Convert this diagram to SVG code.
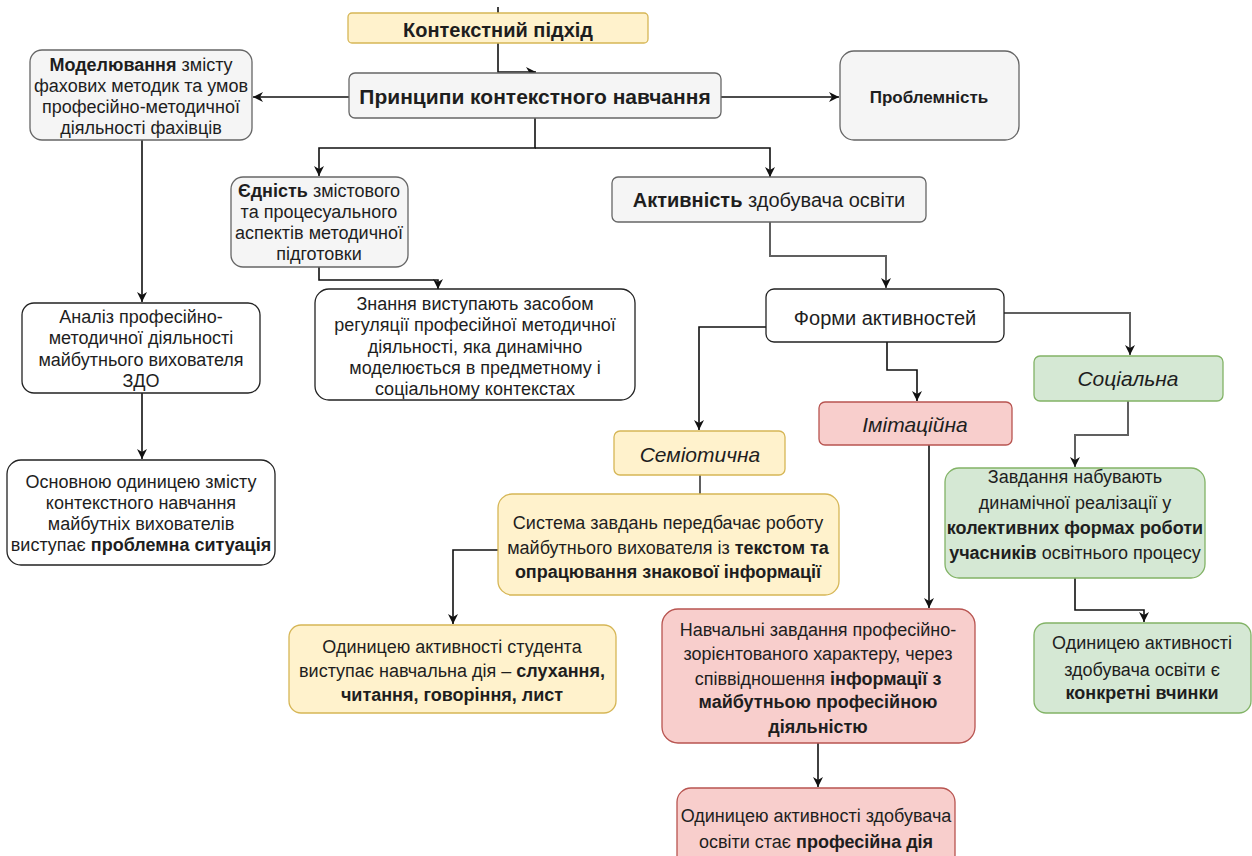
<svg xmlns="http://www.w3.org/2000/svg" width="1252" height="856" viewBox="0 0 1252 856">
<style>
text{font-family:"Liberation Sans",Arial,sans-serif;font-size:18px;text-anchor:middle;fill:#1e1e1e}
.b{font-weight:bold}
.it{font-style:italic;font-size:21px}
.h{font-size:20px}
.gray{fill:#f5f5f5;stroke:#666;stroke-width:1.3}
.wht{fill:#fff;stroke:#222;stroke-width:1.3}
.yel{fill:#fff2cc;stroke:#d6b656;stroke-width:1.3}
.red{fill:#f8cecc;stroke:#b85450;stroke-width:1.3}
.grn{fill:#d5e8d4;stroke:#82b366;stroke-width:1.3}
.e{fill:none;stroke:#111;stroke-width:1.6}
.eg{fill:none;stroke:#606060;stroke-width:2}
</style>
<defs>
<marker id="a" markerUnits="userSpaceOnUse" markerWidth="12" markerHeight="12" refX="10" refY="5" orient="auto"><path d="M0,0 L10,5 L0,10 L3,5 Z" fill="#111"/></marker>
<marker id="ag" markerUnits="userSpaceOnUse" markerWidth="12" markerHeight="12" refX="10" refY="5" orient="auto"><path d="M0,0 L10,5 L0,10 L3,5 Z" fill="#111"/></marker>
</defs>
<rect width="1252" height="856" fill="#fff"/>
<g id="connectors">
<path class="e" d="M498,7 V13"/>
<path class="e" d="M498,43 V72 H536" marker-end="url(#a)"/>
<path class="e" d="M349,97 H253" marker-end="url(#a)"/>
<path class="e" d="M721,97 H839" marker-end="url(#a)"/>
<path class="e" d="M535,118 V148 H319 V176" marker-end="url(#a)"/>
<path class="e" d="M535,148 H770 V177" marker-end="url(#a)"/>
<path class="e" d="M319,267 V280 H438 V289" marker-end="url(#a)"/>
<path class="e" d="M142,140 V302" marker-end="url(#a)"/>
<path class="e" d="M142,393 V459" marker-end="url(#a)"/>
<path class="eg" d="M770,222 V256 H886 V288" marker-end="url(#ag)"/>
<path class="e" d="M766,327 H699 V430" marker-end="url(#a)"/>
<path class="e" d="M887,342 V370 H917 V401" marker-end="url(#a)"/>
<path class="eg" d="M1004,313 H1130 V355" marker-end="url(#ag)"/>
<path class="eg" d="M700,475 V494"/>
<path class="e" d="M498,550 H453 V624" marker-end="url(#a)"/>
<path class="e" d="M929,445 V608" marker-end="url(#a)"/>
<path class="eg" d="M1128,401 V435 H1075 V467" marker-end="url(#ag)"/>
<path class="e" d="M1075,578 V610 H1144 V622" marker-end="url(#a)"/>
<path class="e" d="M818,743 V787" marker-end="url(#a)"/>
</g>
<g id="n-kontekst">
<rect class="yel" x="348" y="13" width="300" height="30" rx="4"/>
<text class="b h" x="498" y="37">Контекстний підхід</text>
</g>
<g id="n-pryntsypy">
<rect class="gray" x="349" y="73" width="372" height="45" rx="6"/>
<text class="b" x="535" y="104" style="font-size:21px">Принципи контекстного навчання</text>
</g>
<g id="n-modeliuvannia">
<rect class="gray" x="30" y="50" width="222" height="90" rx="12"/>
<text x="141" y="71"><tspan class="b">Моделювання</tspan> змісту</text>
<text x="141" y="92">фахових методик та умов</text>
<text x="141" y="113">професійно-методичної</text>
<text x="141" y="134">діяльності фахівців</text>
</g>
<g id="n-problemnist">
<rect class="gray" x="840" y="51" width="179" height="89" rx="14"/>
<text class="b" x="929" y="103" style="font-size:17px">Проблемність</text>
</g>
<g id="n-yednist">
<rect class="gray" x="231" y="177" width="177" height="90" rx="12"/>
<text x="319" y="197"><tspan class="b">Єдність</tspan> змістового</text>
<text x="319" y="218">та процесуального</text>
<text x="319" y="239">аспектів методичної</text>
<text x="319" y="260">підготовки</text>
</g>
<g id="n-aktyvnist">
<rect class="gray" x="612" y="177" width="314" height="45" rx="6"/>
<text class="h" x="769" y="207"><tspan class="b">Активність</tspan> здобувача освіти</text>
</g>
<g id="n-znannia">
<rect class="wht" x="315" y="289" width="320" height="111" rx="14"/>
<text x="475" y="310">Знання виступають засобом</text>
<text x="475" y="331">регуляції професійної методичної</text>
<text x="475" y="353">діяльності, яка динамічно</text>
<text x="475" y="374">моделюється в предметному і</text>
<text x="475" y="395">соціальному контекстах</text>
</g>
<g id="n-analiz">
<rect class="wht" x="22" y="303" width="238" height="90" rx="12"/>
<text x="141" y="323">Аналіз професійно-</text>
<text x="141" y="344">методичної діяльності</text>
<text x="141" y="366">майбутнього вихователя</text>
<text x="141" y="387">ЗДО</text>
</g>
<g id="n-osnovnoiu">
<rect class="wht" x="7" y="460" width="268" height="105" rx="14"/>
<text x="141" y="488">Основною одиницею змісту</text>
<text x="141" y="509">контекстного навчання</text>
<text x="141" y="530">майбутніх вихователів</text>
<text x="141" y="551">виступає <tspan class="b">проблемна ситуація</tspan></text>
</g>
<g id="n-formy">
<rect class="wht" x="766" y="289" width="238" height="53" rx="8"/>
<text class="h" x="885" y="325">Форми активностей</text>
</g>
<g id="n-semiotychna">
<rect class="yel" x="614" y="431" width="171" height="44" rx="6"/>
<text class="it" x="700" y="462">Семіотична</text>
</g>
<g id="n-imitatsiina">
<rect class="red" x="819" y="402" width="193" height="43" rx="6"/>
<text class="it" x="915" y="432">Імітаційна</text>
</g>
<g id="n-sotsialna">
<rect class="grn" x="1034" y="356" width="189" height="45" rx="6"/>
<text class="it" x="1128" y="386">Соціальна</text>
</g>
<g id="n-systema">
<rect class="yel" x="498" y="494" width="341" height="101" rx="14"/>
<text x="668" y="529">Система завдань передбачає роботу</text>
<text x="668" y="554">майбутнього вихователя із <tspan class="b">текстом та</tspan></text>
<text x="668" y="578" class="b">опрацювання знакової інформації</text>
</g>
<g id="n-odynytseiu-student">
<rect class="yel" x="289" y="625" width="327" height="88" rx="12"/>
<text x="452" y="653">Одиницею активності студента</text>
<text x="452" y="677">виступає навчальна дія – <tspan class="b">слухання,</tspan></text>
<text x="452" y="701" class="b">читання, говоріння, лист</text>
</g>
<g id="n-navchalni">
<rect class="red" x="662" y="609" width="313" height="134" rx="16"/>
<text x="818" y="636">Навчальні завдання професійно-</text>
<text x="818" y="660">зорієнтованого характеру, через</text>
<text x="818" y="685">співвідношення <tspan class="b">інформації з</tspan></text>
<text x="818" y="708" class="b">майбутньою професійною</text>
<text x="818" y="733" class="b">діяльністю</text>
</g>
<g id="n-zavdannia">
<rect class="grn" x="945" y="468" width="260" height="110" rx="14"/>
<text x="1075" y="483">Завдання набувають</text>
<text x="1075" y="509">динамічної реалізації у</text>
<text x="1075" y="534" class="b">колективних формах роботи</text>
<text x="1075" y="559"><tspan class="b">учасників</tspan> освітнього процесу</text>
</g>
<g id="n-odynytseiu-vchynky">
<rect class="grn" x="1034" y="623" width="217" height="90" rx="12"/>
<text x="1142" y="649">Одиницею активності</text>
<text x="1142" y="676">здобувача освіти є</text>
<text x="1142" y="699" class="b">конкретні вчинки</text>
</g>
<g id="n-odynytseiu-diia">
<rect class="red" x="677" y="788" width="278" height="82" rx="14"/>
<text x="816" y="822">Одиницею активності здобувача</text>
<text x="816" y="848">освіти стає <tspan class="b">професійна дія</tspan></text>
</g>
</svg>
